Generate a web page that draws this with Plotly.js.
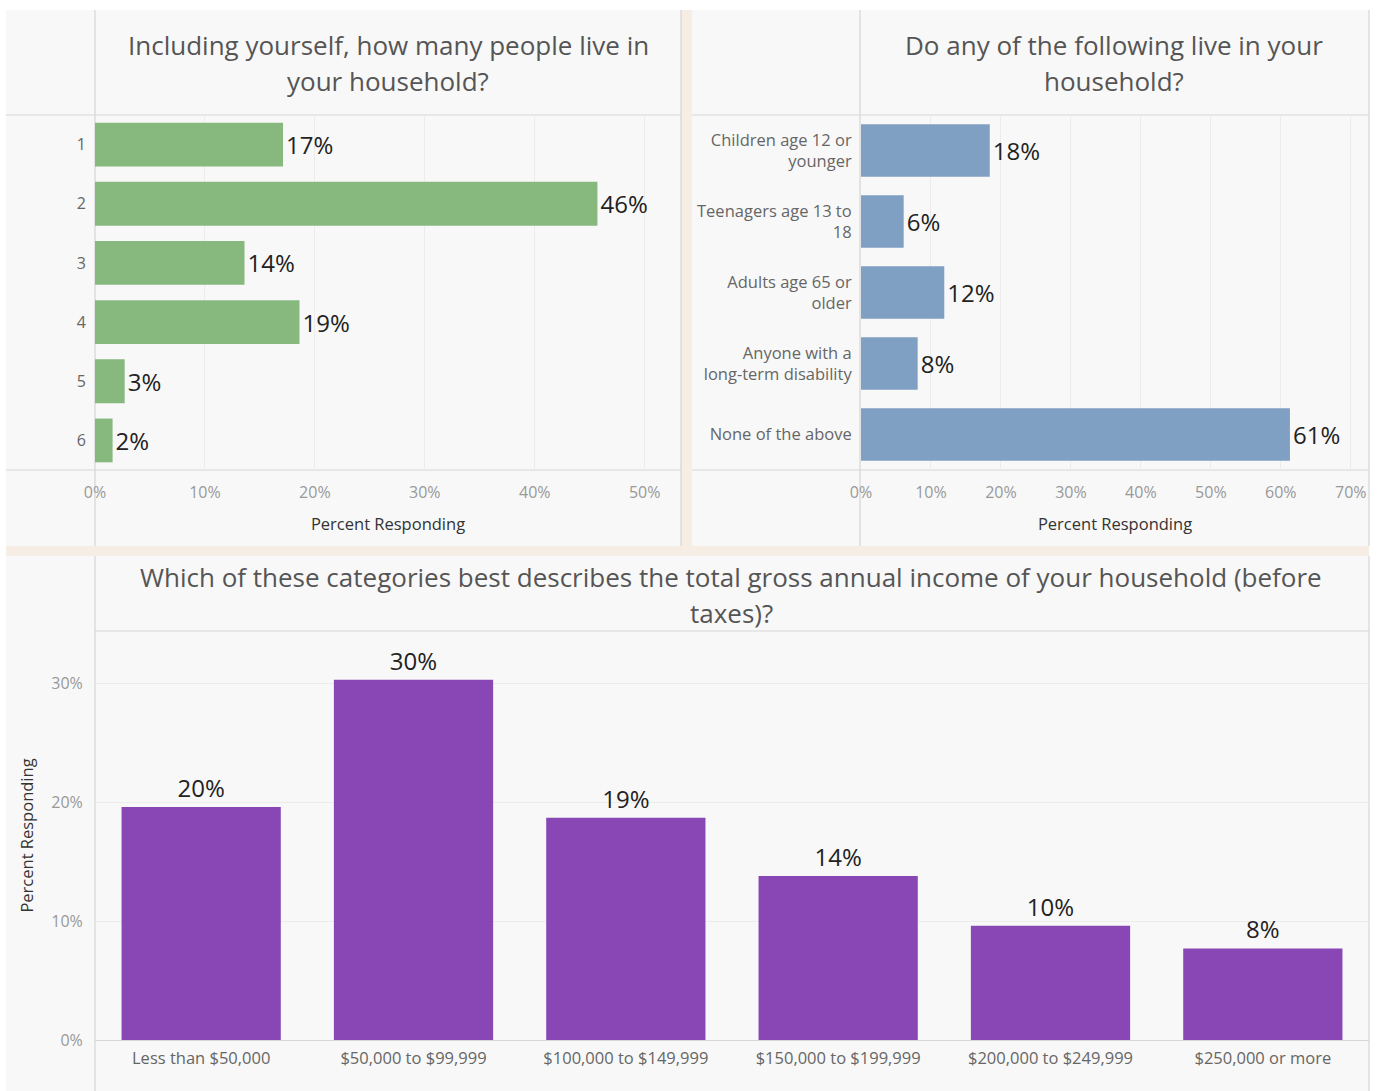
<!DOCTYPE html>
<html>
<head>
<meta charset="utf-8">
<script src="https://cdn.plot.ly/plotly-3.0.1.min.js"></script>
<style>
  html, body { margin: 0; padding: 0; background: #ffffff; }
  #chart { width: 1378px; height: 1091px; }
</style>
</head>
<body>
<div id="chart"></div>
<script>
// ---- Data ----
const householdSizes = ['1', '2', '3', '4', '5', '6'];
const householdSizePct = [17.1, 45.7, 13.6, 18.6, 2.7, 1.6];

const memberTypes = [
  'Children age 12 or<br>younger',
  'Teenagers age 13 to<br>18',
  'Adults age 65 or<br>older',
  'Anyone with a<br>long-term disability',
  'None of the above'
];
const memberPct = [18.4, 6.1, 11.9, 8.1, 61.3];

const incomeBands = [
  'Less than $50,000',
  '$50,000 to $99,999',
  '$100,000 to $149,999',
  '$150,000 to $199,999',
  '$200,000 to $249,999',
  '$250,000 or more'
];
const incomePct = [19.6, 30.3, 18.7, 13.8, 9.6, 7.7];

const topLeftTicks = [0, 10, 20, 30, 40, 50];
const topLeftTickText = ['0%', '10%', '20%', '30%', '40%', '50%'];
const topRightTicks = [0, 10, 20, 30, 40, 50, 60, 70];
const topRightTickText = ['0%', '10%', '20%', '30%', '40%', '50%', '60%', '70%'];
const bottomTicks = [0, 10, 20, 30];
const bottomTickText = ['0%', '10%', '20%', '30%'];

const titleSizeLines = ['Including yourself, how many people live in', 'your household?'];
const titleMembersLines = ['Do any of the following live in your', 'household?'];
const titleIncomeLines = ['Which of these categories best describes the total gross annual income of your household (before', 'taxes)?'];
const axisTitle = 'Percent Responding';

// ---- Geometry helpers (pixels -> paper) ----
const W = 1378, H = 1091;
const px = v => v / W;
const py = v => 1 - v / H;

const FONT = '"Open Sans", Lato, sans-serif';
const PANEL = '#f8f8f8';
const LINE = '#d6d6d6';
const BEIGE = '#f6eee4';

function rect(x0, y0, x1, y1, color) {
  return { type: 'rect', xref: 'paper', yref: 'paper', x0: px(x0), x1: px(x1), y0: py(y1), y1: py(y0),
           fillcolor: color, line: { width: 0 }, layer: 'below' };
}
function hline(x0, x1, y, color) {
  return { type: 'line', xref: 'paper', yref: 'paper', x0: px(x0), x1: px(x1), y0: py(y), y1: py(y),
           line: { color: color || LINE, width: 1.2 }, layer: 'below' };
}
function vline(x, y0, y1, color) {
  return { type: 'line', xref: 'paper', yref: 'paper', x0: px(x), x1: px(x), y0: py(y0), y1: py(y1),
           line: { color: color || LINE, width: 1.2 }, layer: 'below' };
}
function titleLine(text, cx, cy) {
  return { text: text, xref: 'paper', yref: 'paper', x: px(cx), y: py(cy), xanchor: 'center', yanchor: 'middle',
           showarrow: false, font: { family: FONT, size: 26, color: '#555' } };
}

const barText = { family: FONT, size: 24, color: '#222' };

const traces = [
  {
    type: 'bar', orientation: 'h', x: householdSizePct, y: householdSizes,
    xaxis: 'x', yaxis: 'y', marker: { color: '#87b97f' }, width: 0.74,
    texttemplate: '%{x:.0f}%', textposition: 'outside', constraintext: 'none', cliponaxis: false,
    textfont: barText, hoverinfo: 'skip'
  },
  {
    type: 'bar', orientation: 'h', x: memberPct, y: memberTypes,
    xaxis: 'x2', yaxis: 'y2', marker: { color: '#7f9fc3' }, width: 0.74,
    texttemplate: '%{x:.0f}%', textposition: 'outside', constraintext: 'none', cliponaxis: false,
    textfont: barText, hoverinfo: 'skip'
  },
  {
    type: 'bar', x: incomeBands, y: incomePct,
    xaxis: 'x3', yaxis: 'y3', marker: { color: '#8847b5' }, width: 0.75,
    texttemplate: '%{y:.0f}%', textposition: 'outside', constraintext: 'none', cliponaxis: false,
    textfont: barText, hoverinfo: 'skip'
  }
];

const tickFontX = { family: FONT, size: 16, color: '#999' };
const axisTitleFont = { family: FONT, size: 16.5, color: '#333' };
const catFont = { family: FONT, size: 16.5, color: '#666' };

const layout = {
  width: W, height: H,
  margin: { l: 0, r: 0, t: 0, b: 0 },
  paper_bgcolor: '#ffffff',
  plot_bgcolor: 'rgba(0,0,0,0)',
  showlegend: false,
  font: { family: FONT },
  xaxis: {
    domain: [px(95), px(681)], anchor: 'y', range: [0, 53.3],
    tickmode: 'array', tickvals: topLeftTicks, ticktext: topLeftTickText,
    ticks: 'outside', ticklen: 8, tickcolor: 'rgba(0,0,0,0)',
    tickfont: tickFontX, showgrid: true, gridcolor: '#ececec', zeroline: false, showline: false,
    title: { text: axisTitle, font: axisTitleFont, standoff: 16 }
  },
  yaxis: {
    domain: [py(470), py(115)], anchor: 'x', autorange: 'reversed', type: 'category',
    ticks: 'outside', ticklen: 5, tickcolor: 'rgba(0,0,0,0)',
    tickfont: { family: FONT, size: 16, color: '#666' }, showgrid: false, zeroline: false, showline: false
  },
  xaxis2: {
    domain: [px(861), px(1369)], anchor: 'y2', range: [0, 72.6],
    tickmode: 'array', tickvals: topRightTicks, ticktext: topRightTickText,
    ticks: 'outside', ticklen: 8, tickcolor: 'rgba(0,0,0,0)',
    tickfont: tickFontX, showgrid: true, gridcolor: '#ececec', zeroline: false, showline: false,
    title: { text: axisTitle, font: axisTitleFont, standoff: 16 }
  },
  yaxis2: {
    domain: [py(470), py(115)], anchor: 'x2', autorange: 'reversed', type: 'category',
    ticks: 'outside', ticklen: 5, tickcolor: 'rgba(0,0,0,0)',
    tickfont: catFont, showgrid: false, zeroline: false, showline: false
  },
  xaxis3: {
    domain: [px(95), px(1369)], anchor: 'y3', type: 'category',
    ticks: 'outside', ticklen: 3, tickcolor: 'rgba(0,0,0,0)',
    tickfont: catFont, showgrid: false, zeroline: false,
    showline: true, linecolor: LINE, linewidth: 1.2
  },
  yaxis3: {
    domain: [py(1040), py(631)], anchor: 'x3', range: [0, 34.4],
    tickmode: 'array', tickvals: bottomTicks, ticktext: bottomTickText,
    ticks: 'outside', ticklen: 8, tickcolor: 'rgba(0,0,0,0)',
    tickfont: tickFontX, showgrid: true, gridcolor: '#ececec', zeroline: false, showline: false,
    title: { text: axisTitle, font: axisTitleFont, standoff: 13 }
  },
  shapes: [
    rect(6, 10, 681, 546, PANEL),
    rect(692, 10, 1369, 546, PANEL),
    rect(6, 556, 1369, 1091, PANEL),
    rect(681, 10, 692, 556, BEIGE),
    rect(6, 546, 1369, 556, BEIGE),
    hline(6, 681, 115), hline(6, 681, 470), vline(95, 10, 546), vline(681, 10, 546),
    hline(692, 1369, 115), hline(692, 1369, 470), vline(860, 10, 546), vline(1369, 10, 546),
    hline(95, 1369, 631), vline(95, 556, 1091), vline(1369, 556, 1091)
  ],
  annotations: [
    titleLine(titleSizeLines[0], 388, 45), titleLine(titleSizeLines[1], 388, 81),
    titleLine(titleMembersLines[0], 1114, 45), titleLine(titleMembersLines[1], 1114, 81),
    titleLine(titleIncomeLines[0], 731, 577), titleLine(titleIncomeLines[1], 731, 613)
  ]
};

Plotly.newPlot('chart', traces, layout, { staticPlot: true, displayModeBar: false });
</script>
</body>
</html>
